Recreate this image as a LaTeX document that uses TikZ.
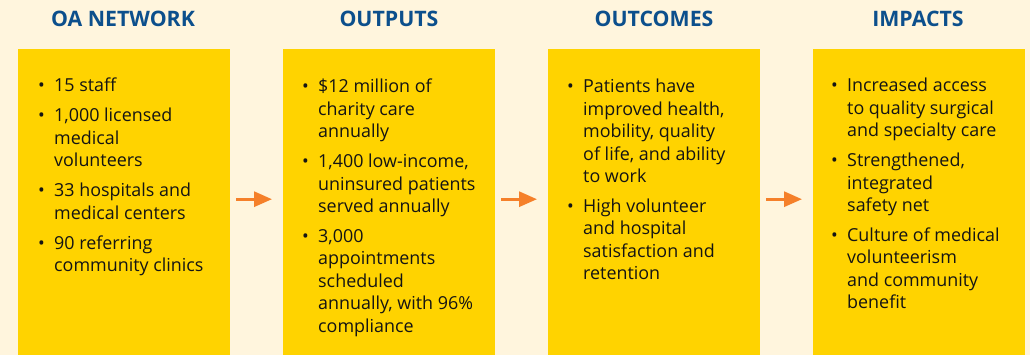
\documentclass[tikz,border=0pt]{standalone}
\usepackage{fontspec}
\setmainfont{Open Sans}
\usetikzlibrary{arrows.meta}
\definecolor{bgcream}{HTML}{FFF5DD}
\definecolor{boxyellow}{HTML}{FFD300}
\definecolor{headblue}{HTML}{0C4F8C}
\definecolor{arroworange}{HTML}{F5802A}
\newcommand{\bitem}[1]{\par\noindent\llap{\makebox[16pt][l]{\textbullet}}#1\par}
\newcommand{\blist}[1]{\vtop{\hsize=185pt\raggedright\fontsize{17.9pt}{22.4pt}\selectfont\parskip=7.6pt\parindent=0pt #1}}
\begin{document}
\begin{tikzpicture}[x=1pt,y=-1pt,
  colbox/.style={fill=boxyellow,draw=none,minimum width=212pt,minimum height=306pt,anchor=north west,inner sep=0pt},
  header/.style={text=headblue,font=\fontsize{21.3pt}{24pt}\selectfont\bfseries,anchor=center,inner sep=0pt},
  listtext/.style={anchor=base west,inner sep=0pt,text=black!92},
  arr/.style={draw=arroworange,line width=3pt,-{Triangle[length=18pt,width=15pt]}}]
\useasboundingbox (0,0) rectangle (1030,355);
\fill[bgcream] (0,0) rectangle (1030,355);
\node[colbox] (b1) at (18,49) {};
\node[colbox] (b2) at (283,49) {};
\node[colbox] (b3) at (548,49) {};
\node[colbox] (b4) at (813,49) {};
\node[header] (h1) at (123,19) {OA NETWORK};
\node[header] (h2) at (389,19) {OUTPUTS};
\node[header] (h3) at (654,19) {OUTCOMES};
\node[header] (h4) at (918,19) {IMPACTS};
\node[listtext] (t1) at (54,92) {\blist{%
\bitem{15 staff}
\bitem{1,000 licensed\\medical\\volunteers}
\bitem{33 hospitals and\\medical centers}
\bitem{90 referring\\community clinics}}};
\node[listtext] (t2) at (318,93) {\blist{%
\bitem{\$12 million of\\charity care\\annually}
\bitem{1,400 low-income,\\uninsured patients\\served annually}
\bitem{3,000\\appointments\\scheduled\\annually, with 96\%\\compliance}}};
\node[listtext] (t3) at (583,93) {\blist{%
\bitem{Patients have\\improved health,\\mobility, quality\\of life, and ability\\to work}
\bitem{High volunteer\\and hospital\\satisfaction and\\retention}}};
\node[listtext] (t4) at (847,92) {\blist{%
\bitem{Increased access\\to quality surgical\\and specialty care}
\bitem{Strengthened,\\integrated\\safety net}
\bitem{Culture of medical\\volunteerism\\and community\\benefit}}};
\draw[arr] ([shift={(6,-3)}]b1.east) -- ([shift={(-11,-3)}]b2.west);
\draw[arr] ([shift={(6,-3)}]b2.east) -- ([shift={(-11,-3)}]b3.west);
\draw[arr] ([shift={(6,-3)}]b3.east) -- ([shift={(-11,-3)}]b4.west);
\end{tikzpicture}
\end{document}
